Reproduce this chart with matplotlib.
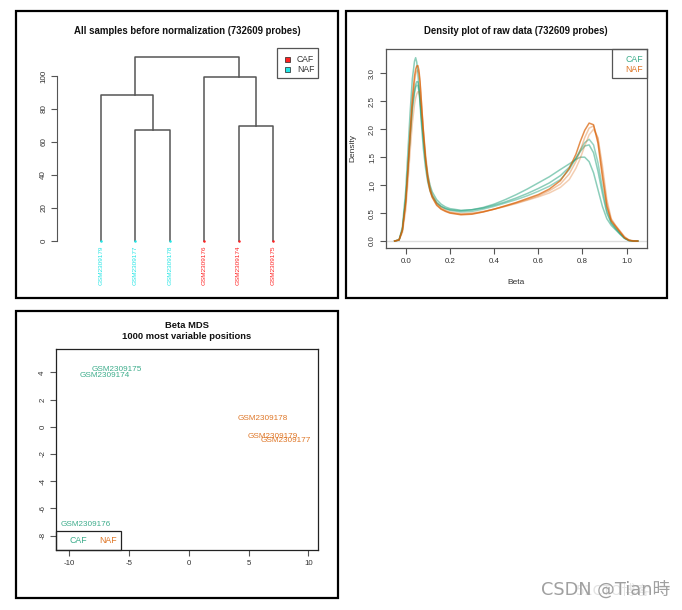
import matplotlib
matplotlib.use('Agg')
import matplotlib.pyplot as plt
from matplotlib.patches import Rectangle
import numpy as np

plt.rcParams['font.family'] = ['Liberation Sans', 'DejaVu Sans']
plt.rcParams['axes.unicode_minus'] = False

# ---- dendrogram data ----
leaves = ['GSM2309179', 'GSM2309177', 'GSM2309178', 'GSM2309176', 'GSM2309174', 'GSM2309175']
leaf_group = ['NAF', 'NAF', 'NAF', 'CAF', 'CAF', 'CAF']
# merges like hclust: negative = leaf (1-based), positive = earlier merge
merge_a = [-2, -5, -1, -4, 3]
merge_b = [-3, -6, 1, 2, 4]
merge_h = [67.5, 69.5, 88.5, 99.3, 111.5]
dendro_cols = {'CAF': '#FF2020', 'NAF': '#22E5E5'}

# ---- density data (beta grid + one curve per sample) ----
beta = [-0.05, -0.03, -0.015, 0.0, 0.01, 0.02, 0.03, 0.04, 0.045, 0.05, 0.055, 0.06,
        0.065, 0.07, 0.08, 0.09, 0.10, 0.11, 0.12, 0.14, 0.16, 0.18, 0.20, 0.25, 0.30,
        0.35, 0.40, 0.45, 0.50, 0.55, 0.60, 0.65, 0.70, 0.74, 0.77, 0.79, 0.81, 0.83,
        0.85, 0.87, 0.89, 0.91, 0.93, 0.95, 0.97, 0.99, 1.01, 1.03, 1.05]
caf1 = [0, 0.02, 0.25, 0.9, 1.6, 2.3, 2.9, 3.22, 3.28, 3.2, 3.0, 2.75, 2.45, 2.15, 1.65,
        1.3, 1.05, 0.9, 0.8, 0.68, 0.62, 0.58, 0.56, 0.54, 0.56, 0.6, 0.66, 0.74, 0.83,
        0.93, 1.04, 1.15, 1.28, 1.38, 1.46, 1.5, 1.5, 1.42, 1.22, 0.92, 0.62, 0.4, 0.28,
        0.2, 0.12, 0.05, 0.01, 0, 0]
caf2 = [0, 0.02, 0.2, 0.75, 1.3, 1.9, 2.4, 2.7, 2.8, 2.85, 2.85, 2.75, 2.55, 2.3, 1.85,
        1.45, 1.18, 1.0, 0.88, 0.74, 0.66, 0.61, 0.58, 0.55, 0.56, 0.59, 0.64, 0.7, 0.77,
        0.85, 0.94, 1.04, 1.17, 1.32, 1.48, 1.6, 1.7, 1.72, 1.58, 1.25, 0.85, 0.5, 0.32,
        0.22, 0.13, 0.05, 0.01, 0, 0]
caf3 = [0, 0.02, 0.2, 0.75, 1.3, 1.85, 2.35, 2.65, 2.75, 2.79, 2.78, 2.68, 2.5, 2.25, 1.8,
        1.4, 1.12, 0.94, 0.82, 0.69, 0.62, 0.58, 0.55, 0.52, 0.53, 0.57, 0.62, 0.68, 0.74,
        0.81, 0.89, 0.98, 1.1, 1.28, 1.48, 1.63, 1.76, 1.82, 1.72, 1.4, 0.95, 0.55, 0.33,
        0.23, 0.14, 0.05, 0.01, 0, 0]
naf1 = [0, 0.02, 0.2, 0.7, 1.3, 1.95, 2.55, 2.95, 3.07, 3.13, 3.14, 3.05, 2.85, 2.55, 1.95,
        1.45, 1.1, 0.9, 0.78, 0.64, 0.57, 0.53, 0.5, 0.47, 0.48, 0.52, 0.57, 0.63, 0.69,
        0.76, 0.83, 0.93, 1.08, 1.3, 1.55, 1.78, 1.98, 2.11, 2.08, 1.75, 1.15, 0.62, 0.36,
        0.26, 0.16, 0.06, 0.01, 0, 0]
naf2 = [0, 0.02, 0.18, 0.65, 1.2, 1.85, 2.45, 2.85, 2.98, 3.04, 3.06, 3.0, 2.82, 2.55, 1.98,
        1.5, 1.15, 0.93, 0.8, 0.66, 0.58, 0.54, 0.51, 0.48, 0.49, 0.52, 0.57, 0.62, 0.68,
        0.74, 0.81, 0.9, 1.02, 1.2, 1.42, 1.62, 1.85, 2.02, 2.06, 1.82, 1.25, 0.68, 0.38,
        0.27, 0.17, 0.07, 0.02, 0, 0]
naf3 = [0, 0.02, 0.15, 0.55, 1.05, 1.6, 2.1, 2.45, 2.56, 2.63, 2.67, 2.67, 2.58, 2.42, 1.98,
        1.55, 1.2, 0.97, 0.83, 0.68, 0.6, 0.55, 0.52, 0.49, 0.5, 0.53, 0.57, 0.62, 0.67,
        0.73, 0.79, 0.86, 0.96, 1.1, 1.3, 1.48, 1.7, 1.9, 2.0, 1.85, 1.35, 0.75, 0.4,
        0.28, 0.18, 0.08, 0.02, 0.005, 0]
density_curves = [caf1, caf2, caf3, naf1, naf2, naf3]
density_group = ['CAF', 'CAF', 'CAF', 'NAF', 'NAF', 'NAF']
density_alpha = [0.5, 0.5, 0.45, 0.7, 0.35, 0.3]

# ---- MDS data ----
mds_names = ['GSM2309175', 'GSM2309174', 'GSM2309178', 'GSM2309179', 'GSM2309177', 'GSM2309176']
mds_x = [-5.98, -7.01, 6.18, 7.07, 8.11, -8.6]
mds_y = [4.22, 3.75, 0.57, -0.73, -0.98, -7.15]
mds_group = ['CAF', 'CAF', 'NAF', 'NAF', 'NAF', 'CAF']

dark2 = {'CAF': '#1B9E77', 'NAF': '#D95F02'}
txt_col = '#333333'
axis_col = '#555555'

W, H = 682, 610
fig = plt.figure(figsize=(W / 100, H / 100), dpi=100)


def fbox(x0, y0, x1, y1):
    return [x0 / W, 1 - y1 / H, (x1 - x0) / W, (y1 - y0) / H]


def frame(x0, y0, x1, y1):
    fig.add_artist(Rectangle((x0 / W, 1 - y1 / H), (x1 - x0) / W, (y1 - y0) / H,
                             transform=fig.transFigure, fill=False, lw=1.6, ec='black'))


def ftext(x, y, s, **kw):
    fig.text(x / W, 1 - y / H, s, **kw)


# panel frames
frame(16, 11, 338, 298)
frame(346, 11, 667, 298)
frame(16, 311, 338, 598)

# ================= panel 1: dendrogram =================
ax1 = fig.add_axes(fbox(57, 50, 310, 250))
ax1.set_xlim(1 - 44 / 34.4, 1 + 209 / 34.4)
ax1.set_ylim(-9 / 1.65, 191 / 1.65)

# node position = centre of its leaf span
node_lo, node_hi = [], []
def span(c):
    if c < 0:
        return -c, -c, 0.0
    return node_lo[c - 1], node_hi[c - 1], merge_h[c - 1]

for a, b, h in zip(merge_a, merge_b, merge_h):
    alo, ahi, ah = span(a)
    blo, bhi, bh = span(b)
    xa = (alo + ahi) / 2
    xb = (blo + bhi) / 2
    ax1.plot([xa, xa, xb, xb], [ah, h, h, bh], color=axis_col, lw=1.1)
    node_lo.append(min(alo, blo))
    node_hi.append(max(ahi, bhi))

for i, (name, g) in enumerate(zip(leaves, leaf_group)):
    ax1.plot(i + 1, 0, 'o', ms=1.8, color=dendro_cols[g], mec='none')
    ax1.annotate(name, (i + 1, 0), xytext=(0, -3), textcoords='offset points',
                 rotation=90, ha='center', va='top', fontsize=4.6,
                 color=dendro_cols[g], annotation_clip=False)

for s in ['top', 'right', 'bottom']:
    ax1.spines[s].set_visible(False)
ax1.spines['left'].set_bounds(0, 100)
ax1.spines['left'].set_color(axis_col)
ax1.set_xticks([])
ax1.set_yticks([0, 20, 40, 60, 80, 100])
ax1.tick_params(axis='y', length=4, pad=3, labelsize=5.8, colors=axis_col,
                labelcolor=txt_col, labelrotation=90)
for lab in ax1.get_yticklabels():
    lab.set_va('center')
ax1.patch.set_visible(False)

ftext(187.5, 31, 'All samples before normalization (732609 probes)',
      ha='center', va='center', fontsize=6.9, fontweight='bold', color='#111111')

# legend panel 1
fig.add_artist(Rectangle((277 / W, 1 - 78 / H), 41 / W, 30 / H, transform=fig.transFigure,
                         fill=False, lw=0.9, ec=axis_col))
for k, g in enumerate(['CAF', 'NAF']):
    yy = 59.3 + 10 * k
    fig.add_artist(Rectangle((285 / W, 1 - (yy + 2.5) / H), 5 / W, 5 / H,
                             transform=fig.transFigure, fc=dendro_cols[g], ec='#222222', lw=0.5))
    ftext(297, yy, g, ha='left', va='center', fontsize=6.2, color=txt_col)

# ================= panel 2: density =================
ax2 = fig.add_axes(fbox(385.7, 49.3, 646.7, 248.3))
ax2.axhline(0, color='#DDDDDD', lw=1.0)
for ys, g, al in zip(density_curves, density_group, density_alpha):
    ax2.plot(beta, ys, color=dark2[g], alpha=al, lw=1.1)
ax2.set_xlim(-0.0905, 1.0905)
ax2.set_ylim(-0.13, 3.43)
ax2.set_xticks([0.0, 0.2, 0.4, 0.6, 0.8, 1.0])
ax2.set_xticklabels(['0.0', '0.2', '0.4', '0.6', '0.8', '1.0'])
ax2.set_yticks([0.0, 0.5, 1.0, 1.5, 2.0, 2.5, 3.0])
ax2.set_yticklabels(['0.0', '0.5', '1.0', '1.5', '2.0', '2.5', '3.0'])
ax2.tick_params(length=4, pad=3, labelsize=5.7, colors=axis_col, labelcolor=txt_col)
ax2.tick_params(axis='y', labelrotation=90)
for lab in ax2.get_yticklabels():
    lab.set_va('center')
for s in ax2.spines.values():
    s.set_color(axis_col)
    s.set_linewidth(0.9)

ftext(516, 31, 'Density plot of raw data (732609 probes)',
      ha='center', va='center', fontsize=6.9, fontweight='bold', color='#111111')
ftext(353, 148, 'Density', rotation=90, ha='center', va='center', fontsize=6.0, color=txt_col)
ftext(516, 282, 'Beta', ha='center', va='center', fontsize=6.0, color=txt_col)

fig.add_artist(Rectangle((611.7 / W, 1 - 77.7 / H), 35 / W, 28.4 / H, transform=fig.transFigure,
                         fill=False, lw=0.9, ec=axis_col))
ftext(642.7, 60, 'CAF', ha='right', va='center', fontsize=6.3, color=dark2['CAF'], alpha=0.85)
ftext(642.7, 69.3, 'NAF', ha='right', va='center', fontsize=6.3, color=dark2['NAF'], alpha=0.85)

# ================= panel 3: MDS =================
ax3 = fig.add_axes(fbox(56, 349, 318.3, 550))
for nm, x, y, g in zip(mds_names, mds_x, mds_y, mds_group):
    ax3.text(x, y, nm, ha='center', va='center', fontsize=5.9, color=dark2[g], alpha=0.85)
ax3.set_xlim(-11.11, 10.84)
ax3.set_ylim(-9.05, 5.71)
ax3.set_xticks([-10, -5, 0, 5, 10])
ax3.set_yticks([-8, -6, -4, -2, 0, 2, 4])
ax3.tick_params(length=4, pad=3, labelsize=5.7, colors=axis_col, labelcolor=txt_col)
ax3.tick_params(axis='y', labelrotation=90)
for lab in ax3.get_yticklabels():
    lab.set_va('center')
for s in ax3.spines.values():
    s.set_color('#222222')
    s.set_linewidth(0.9)

ftext(186.7, 325, 'Beta MDS', ha='center', va='center', fontsize=6.75,
      fontweight='bold', color='#111111')
ftext(186.7, 336.7, '1000 most variable positions', ha='center', va='center', fontsize=6.75,
      fontweight='bold', color='#111111')

fig.add_artist(Rectangle((56 / W, 1 - 550 / H), 65 / W, 19.3 / H, transform=fig.transFigure,
                         fill=False, lw=0.9, ec='#222222'))
ftext(78.3, 540.7, 'CAF', ha='center', va='center', fontsize=6.3, color=dark2['CAF'], alpha=0.85)
ftext(108.3, 540.7, 'NAF', ha='center', va='center', fontsize=6.3, color=dark2['NAF'], alpha=0.85)

# watermark (faint overlay + main)
fig.text(650 / W, 1 - 591 / H, '51CTO博客', ha='right', va='center', fontsize=10,
         color='#E4E4E4', family=['DejaVu Sans', 'Noto Sans CJK SC'])
fig.text(670 / W, 1 - 591 / H, 'CSDN @Tian時', ha='right', va='center', fontsize=12.8,
         color='#A0A0A0', family=['DejaVu Sans', 'Noto Sans CJK SC'])

fig.savefig('out.png', dpi=100)
